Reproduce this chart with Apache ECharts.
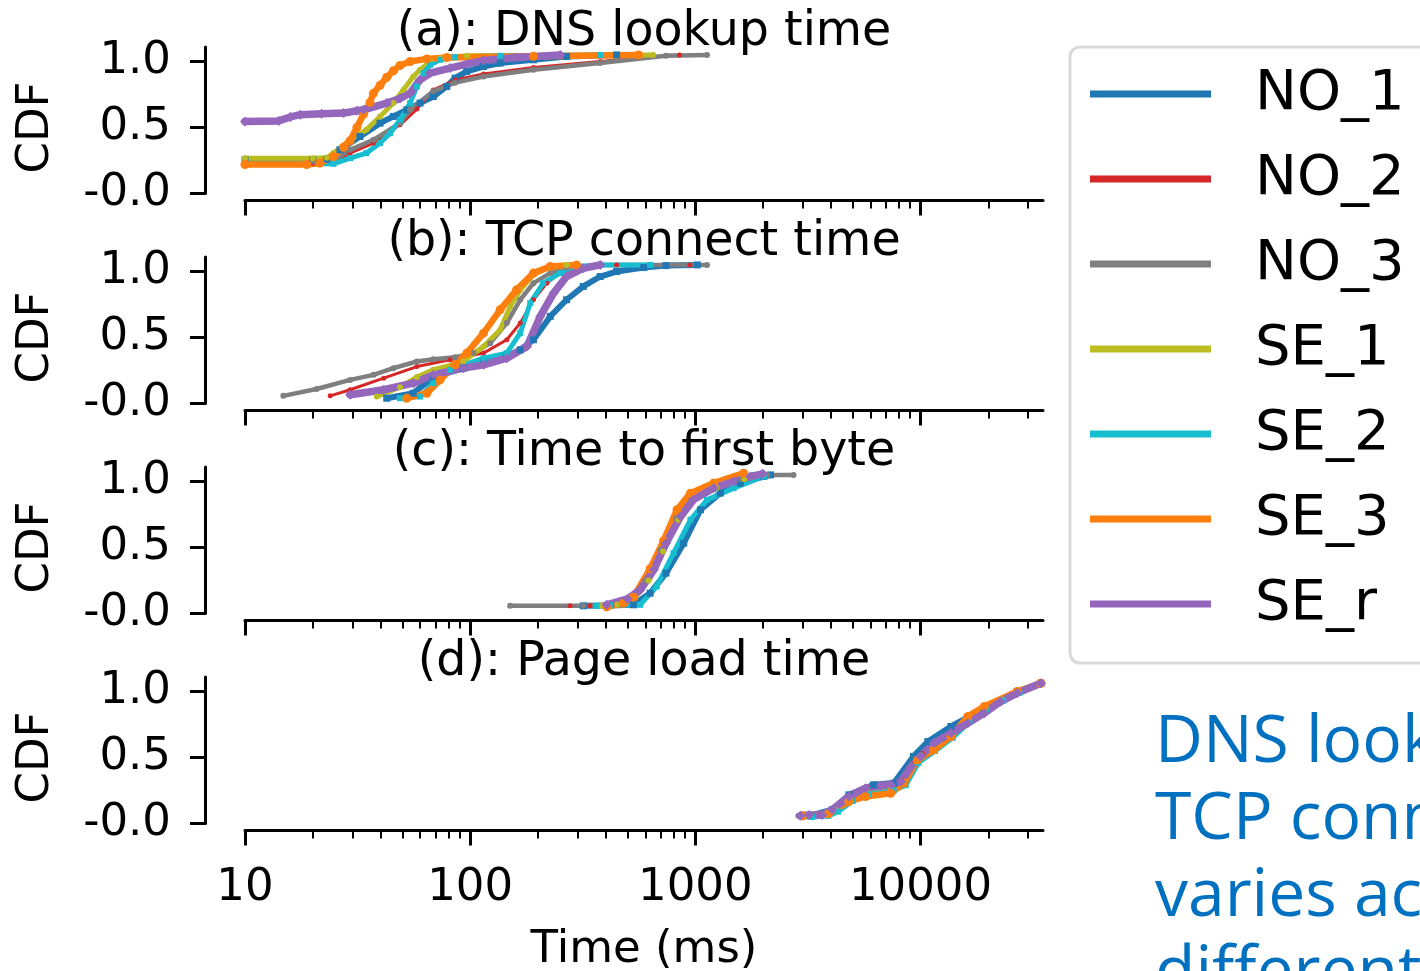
<!DOCTYPE html>
<html><head><meta charset="utf-8">
<script src="https://cdn.jsdelivr.net/npm/echarts@6/dist/echarts.min.js"></script>
<style>html,body{margin:0;padding:0;background:#fff}#c{width:1420px;height:971px}</style>
</head><body><div id="c"></div>
<script>
// ---------- labels ----------
const seriesNames = ['NO_1','NO_2','NO_3','SE_1','SE_2','SE_3','SE_r'];
const panelTitles = ['(a): DNS lookup time','(b): TCP connect time','(c): Time to first byte','(d): Page load time'];
const xMajorTicks = [10,100,1000,10000];
const yTicks = [0,0.5,1.0];
const yLabel = 'CDF';
const xLabel = 'Time (ms)';
const noteLines = ['DNS lookup and','TCP connect time','varies across','different operators'];

// ---------- (a) DNS lookup time: [ms, CDF] ----------
const dns_NO1 = [[10,0.255],[20,0.255],[23.1,0.26],[26.4,0.331],[32.4,0.432],[39.8,0.533],[45.6,0.584],[52.3,0.634],[59.9,0.685],[68.6,0.735],[78.7,0.811],[85.7,0.874],[96.6,0.925],[114.6,0.962],[135.9,0.988],[191,1.013],[268,1.038],[447,1.05]];
const dns_NO2 = [[10,0.23],[20,0.23],[24.7,0.235],[29.3,0.306],[37.2,0.382],[48.8,0.52],[58,0.64],[68.6,0.785],[85.7,0.86],[114.6,0.905],[191,0.955],[378,1.0],[741,1.045],[850,1.05]];
const dns_NO3 = [[10,0.242],[20,0.242],[24.7,0.25],[29.3,0.331],[37.2,0.407],[48.8,0.533],[54.1,0.634],[68.6,0.775],[85.7,0.84],[114.6,0.887],[191,0.937],[378,0.988],[741,1.043],[1127,1.05]];
const dns_SE1 = [[10,0.268],[20,0.268],[23.1,0.27],[24.7,0.306],[29.3,0.407],[34.6,0.483],[39.8,0.584],[45.6,0.685],[50.6,0.786],[55.9,0.887],[59.9,0.937],[66.4,1.0],[73.5,1.025],[96.6,1.043],[650,1.05]];
const dns_SE2 = [[10,0.225],[24.7,0.225],[29.3,0.268],[34.6,0.306],[39.8,0.382],[44.1,0.457],[48.8,0.558],[54.1,0.685],[58,0.811],[62.1,0.912],[66.4,0.975],[73.5,1.013],[85.7,1.033],[135.9,1.043],[378,1.05]];
const dns_SE3 = [[10,0.22],[18.8,0.22],[21.5,0.23],[24.7,0.28],[27.4,0.35],[29.3,0.40],[31.4,0.50],[33.6,0.60],[35.9,0.69],[37.2,0.76],[39.8,0.82],[42.6,0.88],[45.6,0.93],[48.8,0.97],[54.1,1.0],[64.2,1.02],[78.7,1.03],[191,1.04],[560,1.05]];
const dns_SEr = [[10,0.545],[14.1,0.55],[15.9,0.58],[17.6,0.597],[21.9,0.604],[27.4,0.609],[31.4,0.627],[33.6,0.634],[42.6,0.685],[48.8,0.72],[54.1,0.76],[59.9,0.861],[66.4,0.912],[81.4,0.95],[96.6,0.98],[114.6,1.008],[160.7,1.03],[251,1.05]];

// ---------- (b) TCP connect time ----------
const tcp_NO1 = [[42.6,0.04],[55.9,0.078],[68.6,0.2],[93.3,0.268],[114.6,0.318],[145.4,0.356],[166.8,0.407],[191,0.483],[226.8,0.66],[268,0.786],[318,0.887],[378,0.962],[447,1.0],[590,1.03],[741,1.045],[1020,1.05]];
const tcp_NO2 = [[23.9,0.058],[29.3,0.104],[41.3,0.192],[58,0.28],[81.4,0.331],[114.6,0.382],[145.4,0.483],[166.8,0.609],[191,0.786],[219,0.912],[251,0.988],[318,1.038],[447,1.05],[946,1.05]];
const tcp_NO3 = [[14.8,0.058],[20.8,0.11],[29.3,0.179],[37.2,0.217],[45.6,0.268],[58,0.318],[68.6,0.336],[85.7,0.351],[103.5,0.382],[122.7,0.457],[145.4,0.609],[166.8,0.786],[191,0.912],[226.8,0.988],[268,1.03],[378,1.05],[1127,1.05]];
const tcp_SE1 = [[38.5,0.053],[48.8,0.124],[58,0.2],[68.6,0.255],[93.3,0.318],[114.6,0.432],[135.9,0.558],[150.5,0.735],[166.8,0.861],[191,0.975],[226.8,1.038],[268,1.05]];
const tcp_SE2 = [[48.8,0.04],[59.9,0.053],[68.6,0.154],[81.4,0.255],[114.6,0.343],[145.4,0.382],[166.8,0.533],[184.8,0.76],[211,0.912],[251,0.988],[318,1.038],[378,1.05],[630,1.05]];
const tcp_SE3 = [[52.3,0.04],[64.2,0.078],[73.5,0.179],[85.7,0.293],[96.6,0.382],[114.6,0.533],[135.9,0.71],[160.7,0.861],[191,0.988],[226.8,1.038],[297,1.05]];
const tcp_SEr = [[29.3,0.066],[41.3,0.104],[55.9,0.154],[68.6,0.217],[93.3,0.268],[114.6,0.293],[145.4,0.343],[178.7,0.432],[204.7,0.66],[234.6,0.836],[268,0.962],[318,1.025],[378,1.05]];

// ---------- (c) Time to first byte ----------
const ttfb_NO1 = [[318,0.058],[404,0.06],[531,0.066],[630,0.154],[741,0.306],[888,0.533],[1054,0.786],[1290,0.912],[1585,0.988],[2013,1.038],[2155,1.05]];
const ttfb_NO2 = [[278,0.058],[340,0.058],[430,0.066],[530,0.12],[610,0.25],[710,0.47],[830,0.71],[970,0.86],[1220,0.95],[1650,1.02],[2050,1.05]];
const ttfb_NO3 = [[150.5,0.058],[318,0.058],[420,0.066],[520,0.12],[600,0.25],[700,0.48],[820,0.72],[960,0.86],[1200,0.95],[1600,1.02],[2085,1.05],[2730,1.05]];
const ttfb_SE1 = [[380,0.06],[450,0.068],[540,0.12],[620,0.25],[720,0.47],[840,0.71],[980,0.86],[1240,0.95],[1650,1.02],[2000,1.05]];
const ttfb_SE2 = [[364,0.058],[420,0.062],[569,0.066],[674,0.205],[800,0.457],[951,0.71],[1127,0.861],[1480,0.95],[2013,1.038]];
const ttfb_SE3 = [[404,0.05],[479,0.078],[531,0.124],[630,0.34],[722,0.55],[829,0.786],[951,0.912],[1207,0.988],[1640,1.063]];
const ttfb_SEr = [[404,0.066],[500,0.11],[569,0.179],[654,0.331],[741,0.533],[860,0.735],[980,0.861],[1207,0.95],[1480,1.0],[1755,1.038],[1990,1.058]];

// ---------- (d) Page load time ----------
const pl_NO1 = [[3200,0.058],[4060,0.104],[4810,0.217],[6190,0.293],[7620,0.306],[9300,0.508],[10790,0.621],[13650,0.735],[19180,0.87],[26900,1.0],[34260,1.063]];
const pl_NO2 = [[3000,0.058],[3600,0.066],[4100,0.11],[4800,0.21],[5800,0.27],[7400,0.29],[8300,0.33],[9200,0.45],[10200,0.53],[11600,0.61],[13800,0.69],[16400,0.77],[19500,0.86],[23000,0.93],[27000,0.99],[34000,1.06]];
const pl_NO3 = [[2870,0.058],[3300,0.062],[3700,0.07],[4100,0.11],[4800,0.2],[5800,0.26],[7400,0.285],[8300,0.32],[9200,0.44],[10100,0.52],[11500,0.6],[13700,0.68],[16300,0.76],[19300,0.84],[22800,0.92],[27000,0.99],[34000,1.06]];
const pl_SE1 = [[3100,0.058],[3800,0.066],[4200,0.1],[4900,0.18],[5800,0.23],[7400,0.26],[8400,0.31],[9600,0.47],[11400,0.57],[13700,0.67],[16300,0.79],[19300,0.87],[23000,0.94],[27000,1.0],[34000,1.06]];
const pl_SE2 = [[3300,0.05],[3900,0.058],[4300,0.09],[5000,0.17],[5900,0.22],[7600,0.25],[8600,0.29],[9800,0.46],[11600,0.55],[13900,0.65],[16500,0.77],[19600,0.86],[23300,0.93],[27500,0.99],[34000,1.06]];
const pl_SE3 = [[3000,0.058],[3900,0.073],[4810,0.167],[5700,0.205],[7380,0.229],[8450,0.306],[9700,0.482],[11470,0.558],[13650,0.659],[16200,0.81],[19180,0.886],[26900,1.0],[34260,1.063]];
const pl_SEr = [[2930,0.058],[3200,0.065],[3660,0.065],[4060,0.104],[4810,0.205],[5700,0.268],[6660,0.286],[7380,0.293],[8180,0.318],[9080,0.432],[10000,0.508],[11470,0.609],[13650,0.685],[16200,0.76],[19180,0.836],[22700,0.924],[26900,0.988],[34260,1.063]];

const panels = [
  [dns_NO1,dns_NO2,dns_NO3,dns_SE1,dns_SE2,dns_SE3,dns_SEr],
  [tcp_NO1,tcp_NO2,tcp_NO3,tcp_SE1,tcp_SE2,tcp_SE3,tcp_SEr],
  [ttfb_NO1,ttfb_NO2,ttfb_NO3,ttfb_SE1,ttfb_SE2,ttfb_SE3,ttfb_SEr],
  [pl_NO1,pl_NO2,pl_NO3,pl_SE1,pl_SE2,pl_SE3,pl_SEr]
];

// ---------- styling ----------
const colors = ['#1f77b4','#d62728','#7f7f7f','#bcbd22','#17becf','#ff7f0e','#9467bd'];
const widths = [6,3,4.5,5,5,6.5,7.5];
const symbols = ['rect','circle','circle','circle','rect','circle','diamond'];
const symSizes = [7,5,6,6,6,9,10];
const FONT = 'DejaVu Sans';
const X_MIN = 10, X_MAX = 35000;
const LX_MIN = Math.log10(X_MIN), LX_MAX = Math.log10(X_MAX);
const minorTicks = [];
xMajorTicks.forEach(d => { for (let k = 2; k <= 9; k++) { if (d * k < X_MAX) minorTicks.push(d * k); } });

const grids = [], xAxes = [], yAxes = [], series = [], titles = [], graphics = [];
for (let i = 0; i < 4; i++) {
  const top = 47 + 210 * i;
  grids.push({ left: 245, top: top, width: 798, height: 146.5, containLabel: false });
  xAxes.push({ type: 'log', logBase: 10, gridIndex: i, min: X_MIN, max: X_MAX, show: false, position: 'top' });
  xAxes.push({ type: 'value', gridIndex: i, min: LX_MIN, max: LX_MAX, offset: 7, position: 'bottom',
    axisLine: { show: true, onZero: false, lineStyle: { color: '#000', width: 3 } },
    axisTick: { show: true, customValues: xMajorTicks.map(Math.log10), length: 15, lineStyle: { color: '#000', width: 3 } },
    axisLabel: { show: i === 3, customValues: xMajorTicks.map(Math.log10),
      formatter: v => String(Math.round(Math.pow(10, v))), margin: 35, fontSize: 45, fontFamily: FONT, color: '#000' },
    splitLine: { show: false } });
  xAxes.push({ type: 'value', gridIndex: i, min: LX_MIN, max: LX_MAX, offset: 7, position: 'bottom',
    axisLine: { show: false },
    axisTick: { show: true, customValues: minorTicks.map(Math.log10), length: 8, lineStyle: { color: '#000', width: 2 } },
    axisLabel: { show: false, customValues: minorTicks.map(Math.log10) },
    splitLine: { show: false } });
  yAxes.push({ type: 'value', gridIndex: i, min: 0, max: 1.11, offset: 40, position: 'left',
    axisLine: { show: true, onZero: false, lineStyle: { color: '#000', width: 3 } },
    axisTick: { show: true, customValues: yTicks, length: 15, lineStyle: { color: '#000', width: 3 } },
    axisLabel: { show: true, customValues: yTicks, formatter: v => (v === 0 ? '-0.0' : v.toFixed(1)),
      margin: 34, fontSize: 45, fontFamily: FONT, color: '#000' },
    splitLine: { show: false } });
  titles.push({ text: panelTitles[i], left: 644, top: 9 + 210 * i, textAlign: 'center', textVerticalAlign: 'top', padding: 0,
    textStyle: { fontSize: 47.5, fontWeight: 'normal', fontFamily: FONT, color: '#000' } });
  graphics.push({ type: 'text', x: 36, y: 127.5 + 210 * i, rotation: Math.PI / 2,
    style: { text: yLabel, fontSize: 45, fontFamily: FONT, fill: '#000', align: 'center', verticalAlign: 'middle' } });
  panels[i].forEach((data, j) => {
    series.push({ type: 'line', name: seriesNames[j], xAxisIndex: 3 * i, yAxisIndex: i, data: data,
      symbol: symbols[j], symbolSize: symSizes[j], showSymbol: true, showAllSymbol: true, clip: true,
      lineStyle: { color: colors[j], width: widths[j], cap: 'round', join: 'round' },
      itemStyle: { color: colors[j], borderWidth: 0 },
      emphasis: { disabled: true }, silent: true, animation: false });
  });
}
graphics.push({ type: 'text', x: 644, y: 950,
  style: { text: xLabel, fontSize: 45, fontFamily: FONT, fill: '#000', align: 'center', verticalAlign: 'middle' } });
noteLines.forEach((t, k) => {
  graphics.push({ type: 'text', x: 1155, y: 743 + 77 * k,
    style: { text: t, fontSize: 66, fontFamily: 'Open Sans', fill: '#0070c0', align: 'left', verticalAlign: 'middle' } });
});

const chart = echarts.init(document.getElementById('c'), null, { renderer: 'canvas' });
chart.setOption({
  animation: false,
  backgroundColor: '#fff',
  color: colors,
  textStyle: { fontFamily: FONT },
  title: titles,
  grid: grids,
  xAxis: xAxes,
  yAxis: yAxes,
  legend: {
    orient: 'vertical', left: 1070, top: 47, padding: [12, 60, 24, 20],
    itemWidth: 121, itemHeight: 7, itemGap: 15, icon: 'rect', selectedMode: false,
    borderColor: '#d9d9d9', borderWidth: 3, borderRadius: 10, backgroundColor: '#fff',
    data: seriesNames,
    textStyle: { fontSize: 56, fontFamily: FONT, color: '#000', lineHeight: 70, padding: [0, 0, 0, 39] }
  },
  graphic: graphics,
  series: series
});
</script>
</body></html>
